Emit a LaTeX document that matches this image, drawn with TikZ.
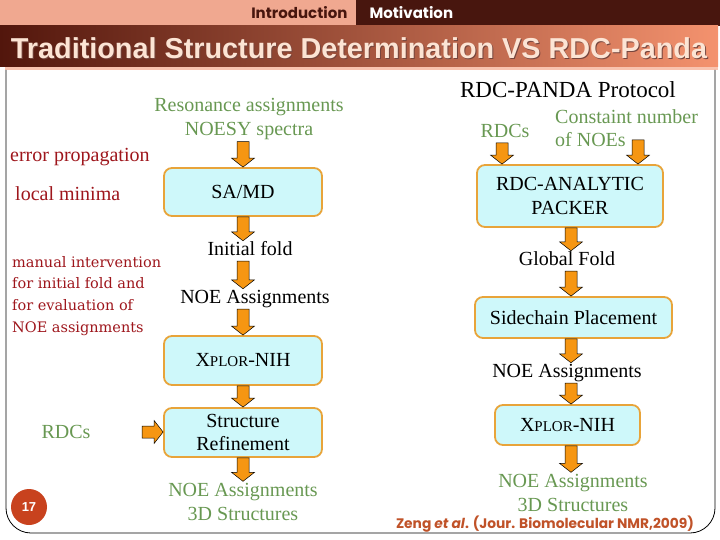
\documentclass[tikz,border=0pt]{standalone}
\usepackage{fontspec}
\setmainfont{Liberation Serif}
\newfontfamily\headfont{Liberation Sans}
\newfontfamily\gothicfont{Poppins}
\newfontfamily\notefont{DejaVu Serif}
\usetikzlibrary{calc}

\definecolor{inputgreen}{RGB}{104,152,82}
\definecolor{notered}{RGB}{158,22,28}
\definecolor{boxfill}{RGB}{206,248,250}
\definecolor{boxedge}{RGB}{232,164,58}
\definecolor{arrowfill}{RGB}{246,150,18}
\definecolor{barlight}{RGB}{240,168,144}
\definecolor{bardark}{RGB}{72,22,14}
\definecolor{titledark}{RGB}{82,22,12}
\definecolor{titlemid}{RGB}{176,80,54}
\definecolor{titlelight}{RGB}{244,146,110}
\definecolor{titletext}{RGB}{252,228,212}
\definecolor{citecolor}{RGB}{192,82,40}
\definecolor{pagebadge}{RGB}{200,66,30}

\tikzset{
  % Process boxes
  procbox/.style={draw=boxedge, fill=boxfill, line width=1.8pt, rounded corners=8pt, align=center, font=\fontsize{20}{23.5}\selectfont},
  % Labels between the arrows
  flowtext/.style={inner xsep=0pt, inner ysep=0.5pt, text height=14pt, text depth=5pt, font=\fontsize{20}{24}\selectfont},
  inputtext/.style={text=inputgreen, align=center, inner sep=2pt, font=\fontsize{20}{23.5}\selectfont},
  notetext/.style={text=notered, align=left, inner sep=0pt},
  % Block arrows
  flowarrow/.style={fill=arrowfill, draw=black, line width=0.5pt},
}

% block arrow going down at x=#1 from #2 to #3
\newcommand{\flowdown}[3]{%
  \filldraw[flowarrow] let \p1=(#2), \p2=(#3) in
    (#1pt-6pt,\y1) -- (#1pt+6pt,\y1) -- (#1pt+6pt,\y2+9pt) -- (#1pt+11.5pt,\y2+9pt)
    -- (#1pt,\y2) -- (#1pt-11.5pt,\y2+9pt) -- (#1pt-6pt,\y2+9pt) -- cycle;}
% block arrow going right from #1 to #2
\newcommand{\flowright}[2]{%
  \filldraw[flowarrow] let \p1=(#1), \p2=(#2) in
    (\x1,\y1+6pt) -- (\x2-9pt,\y1+6pt) -- (\x2-9pt,\y1+11.5pt) -- (\x2,\y1)
    -- (\x2-9pt,\y1-11.5pt) -- (\x2-9pt,\y1-6pt) -- (\x1,\y1-6pt) -- cycle;}

\begin{document}
\begin{tikzpicture}[x=1pt, y=-1pt]
  \useasboundingbox (0,0) rectangle (720,540);

  % Header bars
  \fill[barlight] (0,0) rectangle (356,26);
  \fill[bardark] (356,0) rectangle (720,26);
  \shade[left color=titledark, middle color=titlemid, right color=titlelight] (0,26) rectangle (718,67);
  \fill[titlelight!55] (5,67) rectangle (718,70);
  \node[font=\gothicfont\bfseries\fontsize{15}{15}\selectfont, text=bardark, anchor=east] (secintro) at (351,13) {Introduction};
  \node[font=\gothicfont\bfseries\fontsize{15}{15}\selectfont, text=white, anchor=west] (secmot) at (366,13) {Motivation};
  \node[font=\headfont\bfseries\fontsize{28.8}{30}\selectfont, text=titledark!80] (titleshadow) at (360,49) {Traditional Structure Determination VS RDC-Panda};
  \node[font=\headfont\bfseries\fontsize{28.8}{30}\selectfont, text=titletext] (title) at (359,48) {Traditional Structure Determination VS RDC-Panda};

  % Frame
  \draw[line width=0.8pt, rounded corners=25pt] (6,70) -- (6,533) -- (715,533) -- (715,70);

  % Traditional flow
  \node[inputtext] (resin) at (249,119) {Resonance assignments\\NOESY spectra};
  \node[procbox, minimum width=158pt, minimum height=48pt] (samd) at (243,192) {SA/MD};
  \node[flowtext] (initfold) at (250,251) {Initial fold};
  \node[flowtext] (noea) at (255,299) {NOE Assignments};
  \node[procbox, minimum width=158pt, minimum height=49pt] (xplora) at (243,360.5) {X{\fontsize{15}{15}\selectfont PLOR}-NIH};
  \node[procbox, minimum width=158pt, minimum height=49pt] (refine) at (243,432.5) {Structure\\Refinement};
  \node[inputtext] (outa) at (243,502) {NOE Assignments\\3D Structures};
  \node[inputtext] (rdcl) at (66,432) {RDCs};
  \coordinate (rdcin) at (142,432);

  \flowdown{243}{resin.south}{samd.north}
  \flowdown{243}{samd.south}{initfold.north}
  \flowdown{243}{initfold.south}{noea.north}
  \flowdown{243}{noea.south}{xplora.north}
  \flowdown{243}{xplora.south}{refine.north}
  \flowdown{243}{refine.south}{outa.north}
  \flowright{rdcin}{refine.west}

  % Problems of the traditional flow
  \node[notetext, anchor=west, font=\fontsize{20}{24}\selectfont] (errprop) at (10,157) {error propagation};
  \node[notetext, anchor=west, font=\fontsize{20}{24}\selectfont] (locmin) at (15,194) {local minima};
  \node[notetext, anchor=north west, font=\notefont\fontsize{14.5}{21.7}\selectfont] (manual) at (12,256) {manual intervention\\for initial fold and\\for evaluation of\\NOE assignments};

  % RDC-PANDA flow
  \node[font=\fontsize{23}{23}\selectfont] (protocol) at (568,90) {RDC-PANDA Protocol};
  \node[inputtext, inner ysep=5pt] (rdcr) at (505,131) {RDCs};
  \node[inputtext, align=left, anchor=north west] (constr) at (553,107) {Constaint number\\of NOEs};
  \coordinate (noesin) at (638,140);
  \node[procbox, minimum width=186pt, minimum height=62pt] (packer) at (570,196) {RDC-ANALYTIC\\PACKER};
  \node[flowtext] (global) at (567,261) {Global Fold};
  \node[procbox, minimum width=197pt, minimum height=41pt] (side) at (573.5,317.5) {Sidechain Placement};
  \node[flowtext] (noeb) at (567,373) {NOE Assignments};
  \node[procbox, minimum width=145pt, minimum height=40pt] (xplorb) at (567.5,425) {X{\fontsize{15}{15}\selectfont PLOR}-NIH};
  \node[inputtext] (outb) at (573,493) {NOE Assignments\\3D Structures};

  \flowdown{502}{rdcr.south}{packer.north}
  \flowdown{638}{noesin}{packer.north}
  \flowdown{571}{packer.south}{global.north}
  \flowdown{571}{global.south}{side.north}
  \flowdown{571}{side.south}{noeb.north}
  \flowdown{571}{noeb.south}{xplorb.north}
  \flowdown{571}{xplorb.south}{outb.north}

  % Footer
  \node[circle, fill=pagebadge, minimum size=36pt, inner sep=0pt, text=white, font=\headfont\bfseries\fontsize{13}{13}\selectfont] (pagenum) at (29,507) {17};
  \node[font=\gothicfont\bfseries\fontsize{13.8}{14}\selectfont, text=citecolor] (cite) at (545,524) {Zeng \textit{et al}. (Jour. Biomolecular NMR,2009)};
\end{tikzpicture}
\end{document}
